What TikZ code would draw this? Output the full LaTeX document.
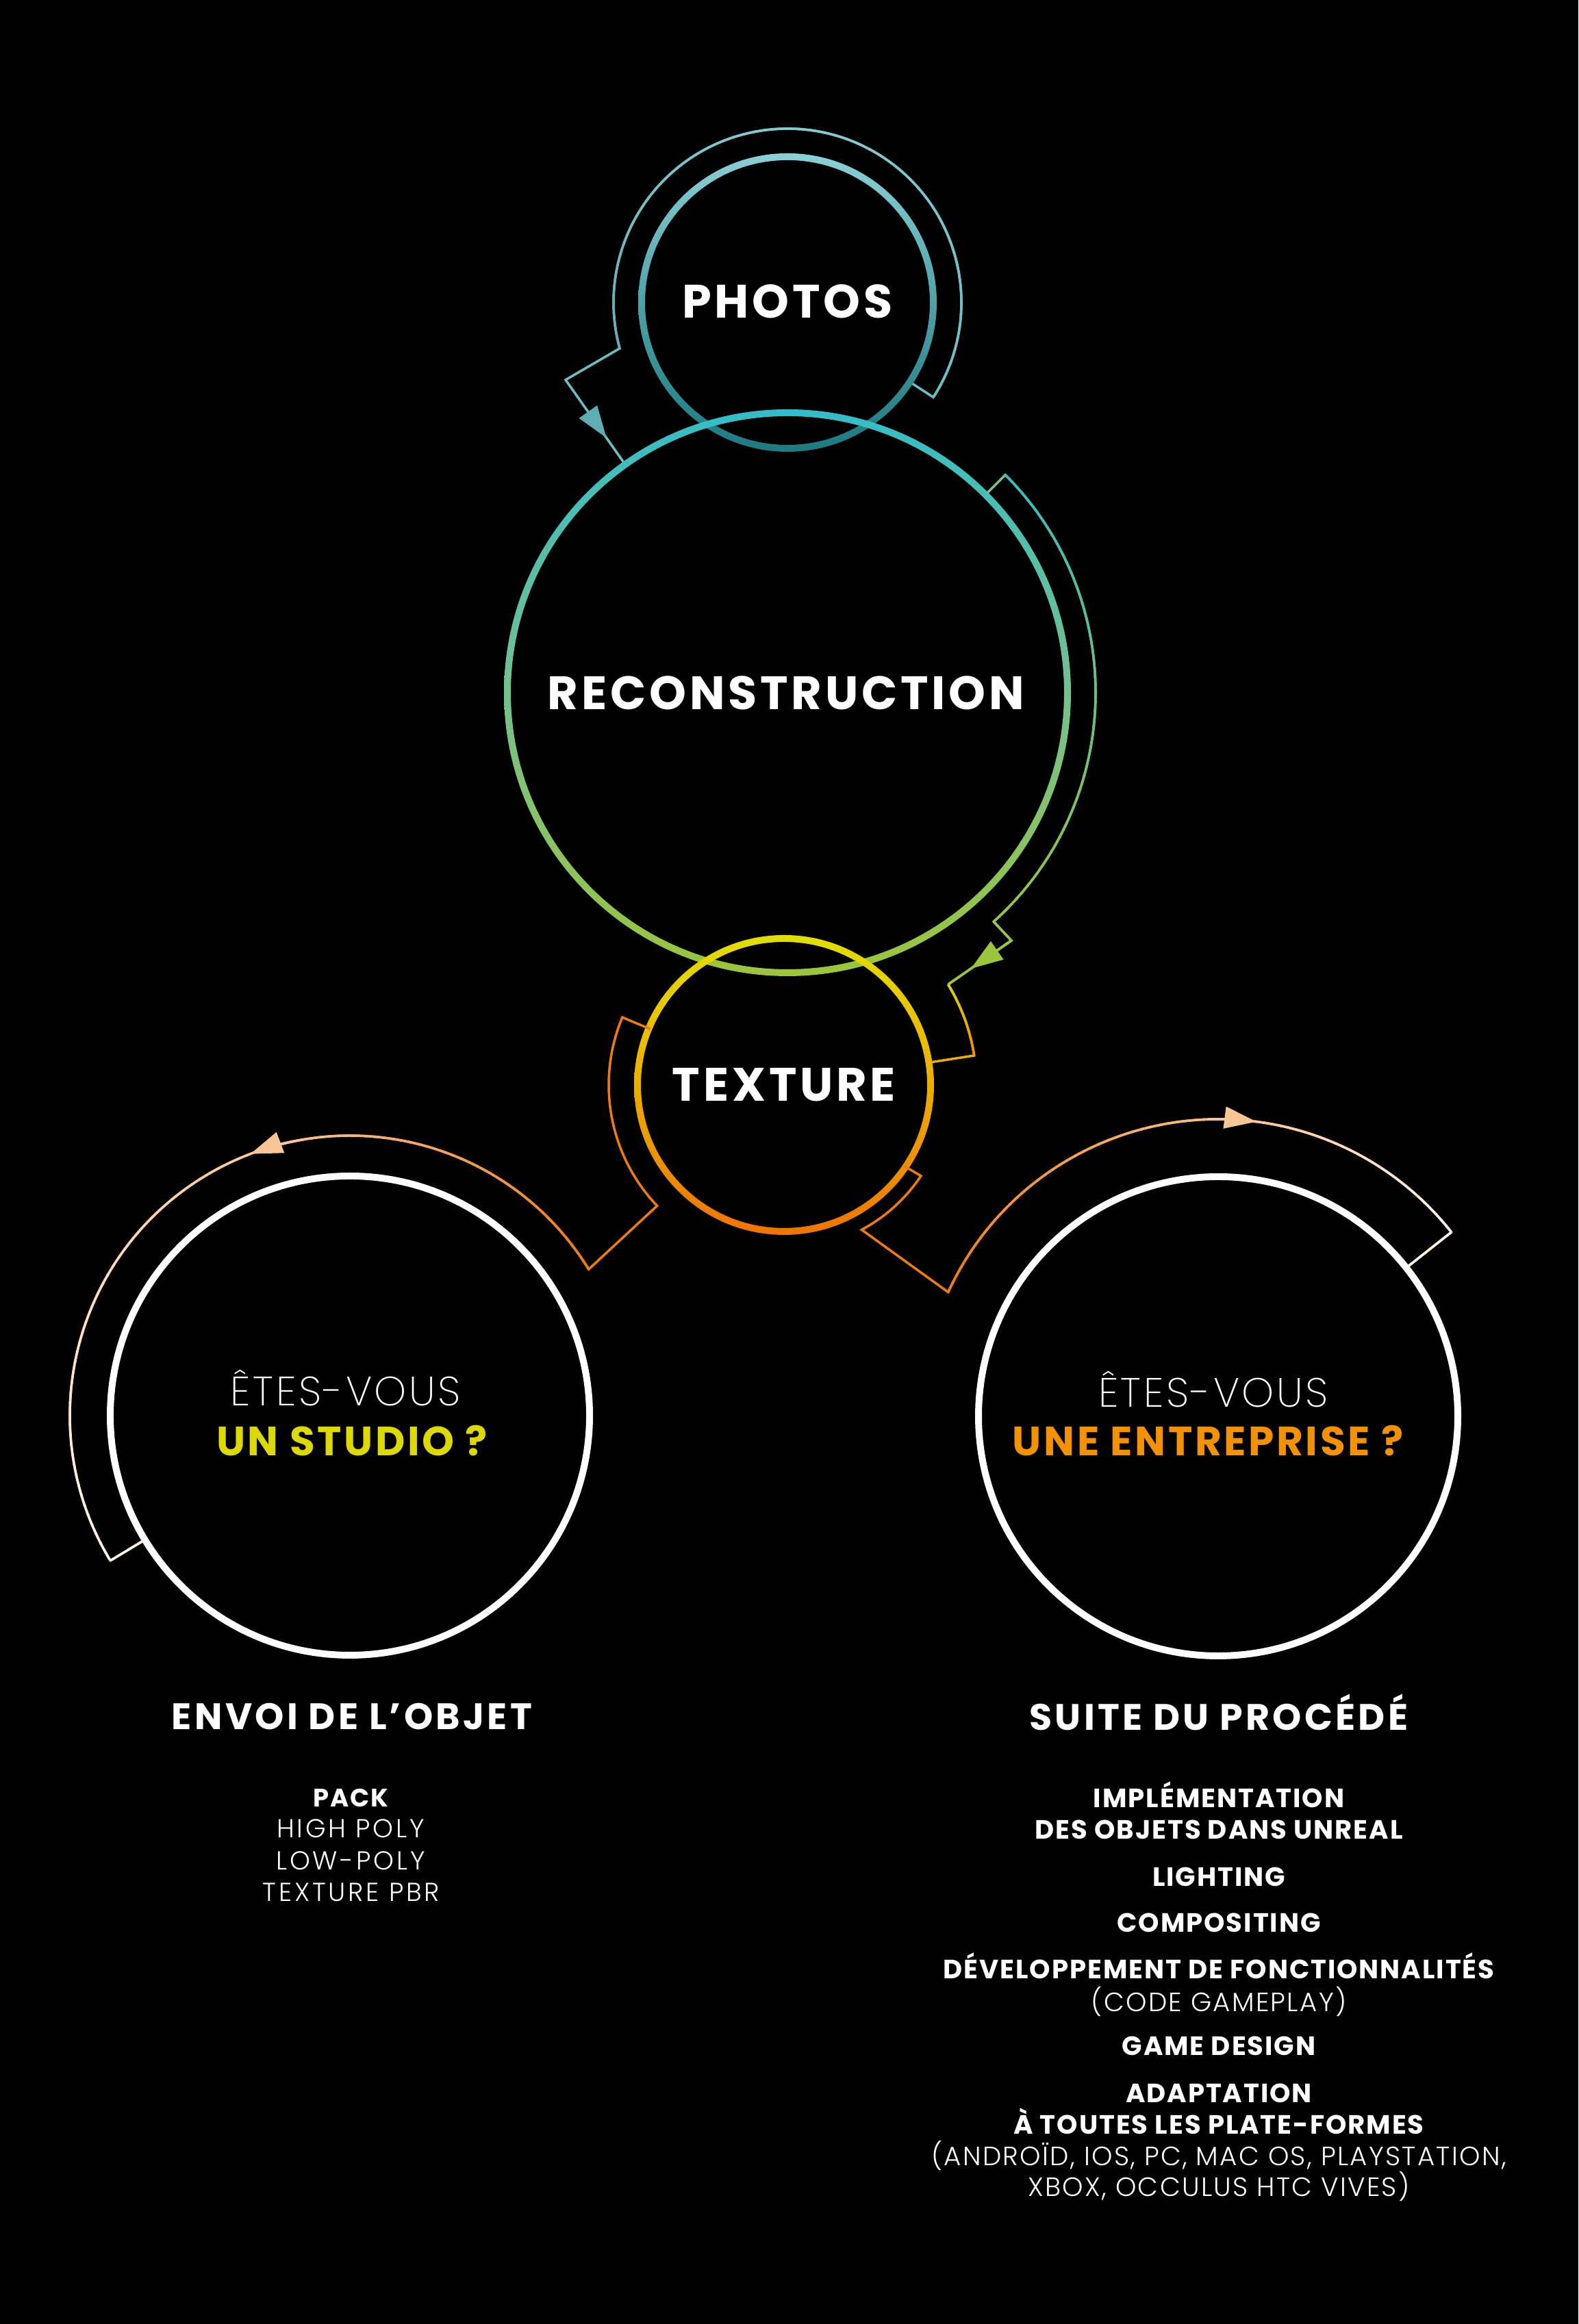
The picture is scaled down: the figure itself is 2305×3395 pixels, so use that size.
\documentclass[tikz,border=0pt]{standalone}
\usepackage{fontspec}
\setmainfont{Poppins}
\newfontfamily\lightfont{Poppins Light}
\newfontfamily\xlightfont{Poppins ExtraLight}
\usetikzlibrary{arrows.meta,calc}
\definecolor{phTop}{HTML}{8AD0D6}
\definecolor{phMid}{HTML}{4DA2A8}
\definecolor{phBot}{HTML}{1C7A80}
\definecolor{phArc}{HTML}{6CBDC4}
\definecolor{phArrow}{HTML}{5FADB4}
\definecolor{reTop}{HTML}{33BDC8}
\definecolor{reMid}{HTML}{74C08E}
\definecolor{reBot}{HTML}{9BC53A}
\definecolor{txTop}{HTML}{E2DE00}
\definecolor{txMid}{HTML}{EBAE00}
\definecolor{txBot}{HTML}{EE7400}
\definecolor{orng}{HTML}{EE7A12}
\definecolor{peach}{HTML}{F8C595}
\definecolor{paleW}{HTML}{FFF8F0}
\definecolor{ylwA}{HTML}{DED400}
\definecolor{ylwB}{HTML}{EE8E00}
\definecolor{ylwTxt}{HTML}{DCD800}
\definecolor{orTxt}{HTML}{F39200}
\tikzset{
  thinline/.style={line width=1pt, line join=miter},
  lbl/.style={text=white, inner sep=0pt, anchor=base},
  tipstyle/.style={line width=1pt, -{Triangle[length=13.3pt,width=9pt]}},
  bigbold/.style={font=\bfseries\fontsize{19.5}{20}\selectfont\addfontfeatures{LetterSpace=7}},
  qthin/.style={font=\xlightfont\fontsize{17}{18}\selectfont\addfontfeatures{LetterSpace=6}},
  qbold/.style={font=\bfseries\fontsize{17}{18}\selectfont\addfontfeatures{LetterSpace=6}},
  headbold/.style={font=\bfseries\fontsize{15.3}{16}\selectfont\addfontfeatures{LetterSpace=8}},
  itembold/.style={font=\bfseries\fontsize{11}{12}\selectfont\addfontfeatures{LetterSpace=5}},
  itemlight/.style={font=\lightfont\fontsize{11}{12}\selectfont\addfontfeatures{LetterSpace=6}},
  leftlight/.style={font=\lightfont\fontsize{10.8}{12}\selectfont\addfontfeatures{LetterSpace=10}},
  leftbold/.style={font=\bfseries\fontsize{10.5}{12}\selectfont\addfontfeatures{LetterSpace=5}},
}
% gradient ring: center, radius, top, middle, bottom
\newcommand{\gradring}[5]{%
  \shade[top color=#3, bottom color=#5, middle color=#4, even odd rule]
    (#1) circle[radius=#2+5] (#1) circle[radius=#2-5];}
% gradient arc: center, radius, a1, a2, colorA, colorB, steps
\newcommand{\gradarc}[7]{%
  \foreach \i in {1,...,#7}{%
    \pgfmathsetmacro\pa{#3+(#4-#3)*(\i-1)/#7}%
    \pgfmathsetmacro\pb{#3+(#4-#3)*min(\i+0.2,#7)/#7}%
    \pgfmathsetmacro\pc{100*(\i-0.5)/#7}%
    \draw[line width=1pt, draw=#6!\pc!#5] ($(#1)+(\pa:#2)$) arc[start angle=\pa, end angle=\pb, radius=#2];
  }}
\begin{document}
\begin{tikzpicture}[x=0.01cm,y=0.01cm]
\fill[black] (0,0) rectangle (2305,3395);
\useasboundingbox (0,0) rectangle (2305,3395);

% centers
\coordinate (cP) at (1150,2953);
\coordinate (cR) at (1150,2383);
\coordinate (cT) at (1145,1810);
\coordinate (cS) at (511,1327);
\coordinate (cE) at (1779,1326);

% ---------- PHOTOS loop ----------
\coordinate (pCorner) at (826,2840);
\coordinate (pEnd) at ($(cR)+(125.4:412)$);
\draw[thinline, phArc] ($(cP)+(-33:213)$) -- ($(cP)+(-33:254)$)
  arc[start angle=-33, end angle=195.3, radius=254] -- (pCorner) -- (pEnd);
\gradarc{cP}{254}{-33}{90}{phArc}{phTop!80!phArc}{30}
\gradarc{cP}{254}{90}{195.3}{phTop!80!phArc}{phArc!90!black}{30}
\draw[tipstyle, phArrow] ($(pCorner)!0.4!(pEnd)$) -- ($(pCorner)!0.70!(pEnd)$);
\gradring{cP}{213}{phTop}{phMid}{phBot}

% ---------- RECONSTRUCTION ----------
\gradring{cR}{409}{reTop}{reMid}{reBot}
\coordinate (rC1) at (1477,2021);
\coordinate (rC2) at ($(cT)+(31.5:281)$);
\draw[thinline, reMid] ($(cR)+(45:412)$) -- ($(cR)+(45:450)$)
  arc[start angle=45, end angle=-48, radius=450] -- (rC1) -- (rC2);
\gradarc{cR}{450}{45}{-48}{reTop}{reBot}{60}
\draw[thinline, reBot] ($(cR)+(-48:450)$) -- (rC1) -- (rC2);
\draw[tipstyle, reBot] (rC1) -- ($(rC1)!0.64!(rC2)$);
\draw[thinline, txMid] (rC2) arc[start angle=31.5, end angle=8.8, radius=281]
  -- ($(cT)+(8.8:212)$);
\gradarc{cT}{281}{31.5}{8.8}{ylwA}{ylwB}{20}

% ---------- TEXTURE ----------
\gradring{cT}{214}{txTop}{txMid}{txBot}

% left loop texture -> studio
\draw[thinline, orng] ($(cT)+(157.3:212)$) -- ($(cT)+(157.3:256)$)
  arc[start angle=157.3, end angle=223.6, radius=256]
  -- ($(cS)+(31.5:409)$)
  arc[start angle=31.5, end angle=211.2, radius=409]
  -- ($(cS)+(211.2:348)$);
\gradarc{cS}{409}{31.5}{105}{orng}{peach}{40}
\gradarc{cS}{409}{105}{211.2}{peach}{paleW}{50}
\draw[thinline, paleW] ($(cS)+(211.2:409)$) -- ($(cS)+(211.2:348)$);
\draw[tipstyle, peach] ($(cS)+(100:409)$) arc[start angle=100, end angle=110.8, radius=409];

% right loop texture -> entreprise
\draw[thinline, orng] ($(cT)+(-34:212)$) -- ($(cT)+(-33.6:240)$)
  arc[start angle=-33.6, end angle=-61.8, radius=240]
  -- ($(cE)+(155.3:434)$)
  arc[start angle=155.3, end angle=38.3, radius=434]
  -- ($(cE)+(38.3:348)$);
\gradarc{cE}{434}{155.3}{86}{orng}{peach}{40}
\gradarc{cE}{434}{86}{38.3}{peach}{paleW}{30}
\draw[thinline, paleW] ($(cE)+(38.3:434)$) -- ($(cE)+(38.3:348)$);
\draw[tipstyle, peach] ($(cE)+(92:434)$) arc[start angle=92, end angle=82.6, radius=434];

% ---------- white circles ----------
\draw[white, line width=2.83pt] (cS) circle[radius=350];
\draw[white, line width=2.83pt] (cE) circle[radius=350];

% ---------- labels ----------
\node[lbl, bigbold] (tP) at (1150,2930) {PHOTOS};
\node[lbl, bigbold] (tR) at (1148,2358) {RECONSTRUCTION};
\node[lbl, bigbold] (tT) at (1145,1786) {TEXTURE};

\node[lbl, qthin] (sQ1) at (505,1341) {ÊTES-VOUS};
\node[lbl, qbold, text=ylwTxt] (sQ2) at (514,1268) {UN STUDIO ?};
\node[lbl, qthin] (eQ1) at (1772,1339) {ÊTES-VOUS};
\node[lbl, qbold, text=orTxt] (eQ2) at (1764,1268) {UNE ENTREPRISE ?};

% left column
\node[lbl, headbold] (lH) at (514,868) {ENVOI DE L’OBJET};
\node[lbl, leftbold] (l1) at (512,755) {PACK};
\node[lbl, leftlight] (l2) at (512,710) {HIGH POLY};
\node[lbl, leftlight] (l3) at (512,663) {LOW-POLY};
\node[lbl, leftlight] (l4) at (513,617) {TEXTURE PBR};

% right column
\node[lbl, headbold] (rH) at (1780,867) {SUITE DU PROCÉDÉ};
\node[lbl, itembold] (r1) at (1780,754) {IMPLÉMENTATION};
\node[lbl, itembold] (r2) at (1780,708) {DES OBJETS DANS UNREAL};
\node[lbl, itembold] (r3) at (1780,639) {LIGHTING};
\node[lbl, itembold] (r4) at (1780,572) {COMPOSITING};
\node[lbl, itembold] (r5) at (1780,504) {DÉVELOPPEMENT DE FONCTIONNALITÉS};
\node[lbl, itemlight] (r6) at (1780,456) {(CODE GAMEPLAY)};
\node[lbl, itembold] (r7) at (1780,392) {GAME DESIGN};
\node[lbl, itembold] (r8) at (1780,323) {ADAPTATION};
\node[lbl, itembold] (r9) at (1780,277) {À TOUTES LES PLATE-FORMES};
\node[lbl, itemlight] (r10) at (1780,231) {(ANDROÏD, IOS, PC, MAC OS, PLAYSTATION,};
\node[lbl, itemlight] (r11) at (1780,186) {XBOX, OCCULUS HTC VIVES)};
\end{tikzpicture}
\end{document}
